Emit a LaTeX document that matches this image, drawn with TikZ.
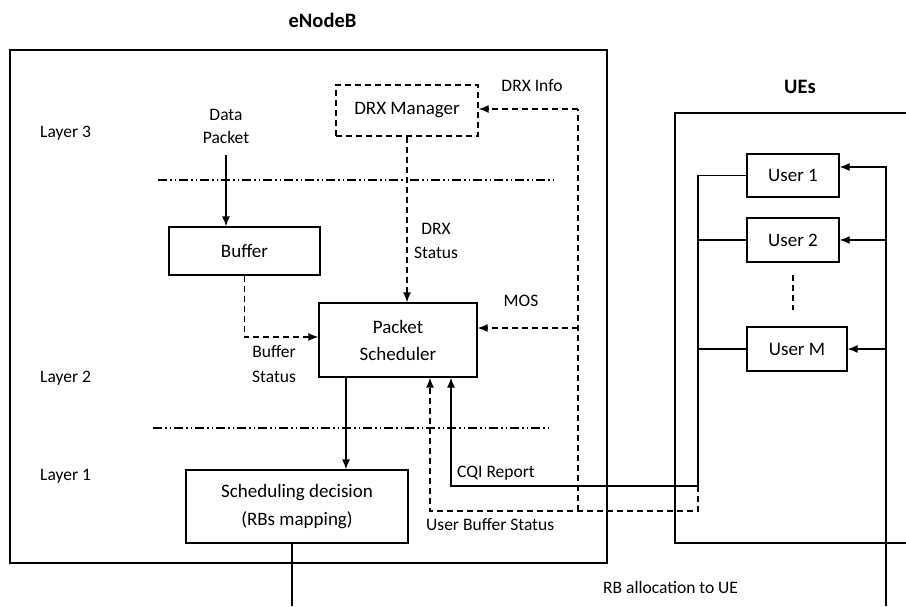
\documentclass[tikz,border=0pt]{standalone}
\usepackage{fontspec}
\setmainfont{Carlito}
\usetikzlibrary{arrows.meta,calc}
\begin{document}
\begin{tikzpicture}[x=1pt,y=-1pt,
  every node/.style={font=\fontsize{17.5}{25}\selectfont},
  box/.style={draw,line width=1.3pt,inner sep=0pt,align=center,font=\fontsize{19}{27}\selectfont},
  dbox/.style={box,dash pattern=on 6pt off 4pt},
  lbl/.style={inner sep=0pt,align=center},
  ttl/.style={inner sep=0pt,font=\fontsize{20.5}{24}\selectfont\bfseries},
  sline/.style={line width=1.3pt},
  dline/.style={line width=1.4pt,dash pattern=on 6pt off 4pt},
  arr/.style={-{Latex[length=10pt,width=8pt]}},
  layerline/.style={line width=1.1pt,dash pattern=on 9pt off 3pt on 1.5pt off 3pt on 1.5pt off 3pt}
]
\useasboundingbox (0,0) rectangle (906,606);
% containers
\draw[sline] (10,50) rectangle (607,563);
\draw[sline] (906,113) -- (675,113) -- (675,543) -- (906,543);
\node[ttl] (tE) at (322.5,20) {eNodeB};
\node[ttl] (tU) at (800,87) {UEs};
% layer lines
\draw[layerline] (158,180) -- (553,180);
\draw[layerline] (153,428) -- (548,428);
% layer labels
\node[lbl,anchor=west] (L3) at (40,133) {Layer 3};
\node[lbl,anchor=west] (L2) at (40,378) {Layer 2};
\node[lbl,anchor=west] (L1) at (40,476) {Layer 1};
% boxes
\node[box,minimum width=151pt,minimum height=48pt] (buf) at (244.5,251) {Buffer};
\node[dbox,minimum width=142pt,minimum height=51pt] (drx) at (407,110.5) {DRX Manager};
\node[box,minimum width=158pt,minimum height=74pt] (ps) at (398,340) {Packet\\Scheduler};
\node[box,minimum width=222pt,minimum height=73pt,font=\fontsize{19}{28}\selectfont] (sd) at (297,506.5) {Scheduling decision\\(RBs mapping)};
\node[box,minimum width=92pt,minimum height=43pt] (u1) at (793,175.5) {User 1};
\node[box,minimum width=92pt,minimum height=44pt] (u2) at (793,240) {User 2};
\node[box,minimum width=100pt,minimum height=44pt] (uM) at (797,349) {User M};
% labels
\node[lbl,font=\fontsize{17.5}{23}\selectfont] (dp) at (226,126.5) {Data\\Packet};
\node[lbl,font=\fontsize{17.5}{24}\selectfont] (drxs) at (436,241) {DRX\\Status};
\node[lbl,font=\fontsize{17.5}{25}\selectfont] (bs) at (274,364.5) {Buffer\\Status};
\node[lbl] (drxi) at (532,86) {DRX Info};
\node[lbl] (mos) at (521,301) {MOS};
\node[lbl,anchor=west] (cqi) at (457,473) {CQI Report};
\node[lbl,anchor=west] (ubs) at (426,525) {User Buffer Status};
\node[lbl,anchor=west] (rba) at (603,587) {RB allocation to UE};
% coordinates
\coordinate (dps) at (226,155);
\coordinate (c1) at (578,109);
\coordinate (cm) at (578,328);
\coordinate (c2) at (578,511);
\coordinate (bt) at (698,486);
\coordinate (bd) at (698,511);
\coordinate (ub) at (430,511);
\coordinate (rbtop) at (886,167);
\coordinate (rbbot) at (886,606);
\coordinate (sdbot) at (292,606);
\coordinate (vd1) at (793,275);
\coordinate (vd2) at (793,310);
% connectors
\draw[sline,arr] (dps) -- (dps |- buf.north);
\draw[dline,arr] (drx.south) -- (drx.south |- ps.north);
\draw[dline,arr] (buf.south) |- (ps.west |- 0,337);
\draw[dline] (c2) -- (c1);
\draw[dline,arr] (c1) -- (c1 -| drx.east);
\draw[dline,arr] (cm) -- (cm -| ps.east);
\draw[sline,arr] ([xshift=-52pt]ps.south) -- ([xshift=-52pt]ps.south |- sd.north);
\draw[dline,arr] (bt) -- (bd) -- (ub) -- (ub |- ps.south);
\draw[sline,arr] (bt) -| ([xshift=53pt]ps.south);
\draw[sline] (u1.west) -| (bt);
\draw[sline] (u2.west) -- (u2.west -| bt);
\draw[sline] (uM.west) -- (uM.west -| bt);
\draw[sline,arr] (rbbot) -- (rbtop) -- (rbtop -| u1.east);
\draw[sline,arr] (u2.east -| rbtop) -- (u2.east);
\draw[sline,arr] (uM.east -| rbtop) -- (uM.east);
\draw[dline] (vd1) -- (vd2);
\draw[sline] (sd.south -| sdbot) -- (sdbot);
\end{tikzpicture}
\end{document}
